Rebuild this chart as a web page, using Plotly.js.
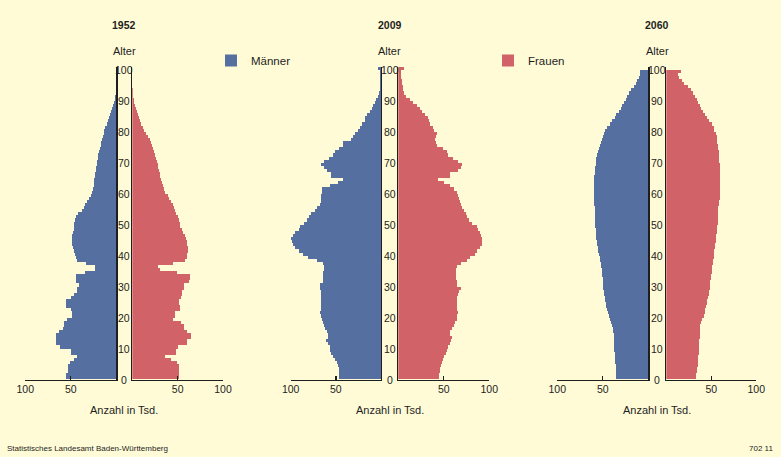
<!DOCTYPE html>
<html>
<head>
<meta charset="utf-8">
<script src="https://cdn.plot.ly/plotly-3.0.1.min.js"></script>
<style>
html,body{margin:0;padding:0;background:#FFFBD7;}
#chart{width:781px;height:457px;}
</style>
</head>
<body>
<div id="chart"></div>
<script>
// ---------- DATA (population in thousands, by single year of age) ----------
const years = ['1952', '2009', '2060'];
const seriesNames = ['Männer', 'Frauen'];
const ageTickLabels = ['0','10','20','30','40','50','60','70','80','90','100'];
const xTickLabels = ['50', '100'];

// ages 0 .. 100
const ages = Array.from({length: 101}, (_, i) => i);

const men1952 = [
 55,55,53,53,53,51,47,43,50,50,
 62,66,66,66,66,63,59,58,58,54,
 49,49,50,55,55,55,50,46,43,43,
 41,44,44,44,34,23,23,33,43,44,
 45,47,48,49,49,49,49,48,47,46,
 46,45,44,42,38,36,34,32,30,28,
 27,26,25,25,24,23,23,22,22,21,
 21,20,20,19,18,17,17,16,15,14,
 13,12,10,9,8,7,6,5,4,3,
 1.5,1,0.5,0.3,0,0,0,0,0,0,0];
const women1952 = [
 52,52,52,52,51,49,43,36,48,48,
 50,60,60,65,65,60,57,57,54,45,
 47,47,53,53,52,52,54,55,55,57,
 57,62,64,64,49,30,28,45,58,60,
 60,61,61,60,60,59,58,56,55,53,
 53,51,50,48,47,46,45,43,41,39,
 36,35,34,33,32,31,30,29,28,28,
 27,26,25,24,23,22,21,19,17,15,
 13,12,10,8,7,6,5,4,3,2,
 1.5,1.2,1,0.5,0,0,0,0,0,0,0];

const men2009 = [
 47,47,47,47,48,49,51,53,55,56,
 57,59,61,59,59,60,62,63,64,65,
 67,68,67,67,66,66,66,66,66,68,
 68,64,64,64,64,63,63,64,71,81,
 86,91,95,97,99,100,98,95,91,90,
 85,82,80,77,73,71,68,67,66,66,
 65,65,56,48,42,55,55,60,63,66,
 63,58,53,51,47,42,42,33,31,29,
 26,23,21,18,18,15,12,10,8.5,7,
 5.5,3,2,1.5,1.5,1.5,1.5,1.5,1.5,1.5,3];
const women2009 = [
 45,45,46,46,47,48,49,50,52,53,
 55,57,58,59,57,57,59,61,62,64,
 64,66,64,64,64,64,65,66,67,69,
 64,64,63,63,63,63,64,69,75,79,
 84,87,90,92,92,92,91,90,88,86,
 81,78,76,74,72,70,69,68,67,66,
 65,61,57,50,44,57,57,66,69,70,
 66,60,55,53,49,42,41,40,41,42,
 39,38,35,34,33,29,26,24,21,16,
 13,8,6.5,5.5,5,4.5,4,3.5,3,3.5,6];

const men2060 = [
 35,35,35.5,36,36,36.5,37,37,37,37.5,
 38,38,38,38,38,38.5,39,39.5,41,42,
 43,44,45,46,46.5,47.5,48,48.5,49,49.5,
 50,50,50,50.5,50.5,51,51.5,52,53,53.5,
 54,55,55.5,56,56.5,57,57.5,58,58,58.5,
 58.5,58.5,58.5,59,59,59,59.3,59.3,59.3,59.3,
 59.3,59.3,59.3,59.3,59.3,59.3,59,58.5,58.2,58,
 57.8,57,56.5,55.5,54.5,53,52,51,50,49,
 47.5,45,42,40,37,35,32,30,28.5,27,
 25,23,21,18.5,16,13.5,12,10.5,9.5,9,0];
const women2060 = [
 33.5,33.5,34,34.5,35,35,35,35.5,36,36,
 36,36.5,36.5,37,37,37,37.5,37.5,39,40,
 41.5,42.5,43.5,44.5,45,45.5,46.5,47,48,48.5,
 49,49,49.5,50,50.5,50.5,51,51.5,52,52.5,
 53,53.5,54,54.5,55,55.5,55.5,56,56,56.5,
 57,57,57,57.5,58,58,58.5,59,59.5,59.6,
 59.6,59.6,59.6,59.6,59.6,59.6,59.6,59.6,59.6,59.5,
 59,59,59,58.5,58,57.5,56.5,56,56,55,
 53.5,52.5,50.5,48,45,43,40.5,39,37.5,35.5,
 34.5,32,30,28,24.5,19.5,17,14.5,13.5,16.5,0];

const menByYear = [men1952, men2009, men2060];
const womenByYear = [women1952, women2009, women2060];

// ---------- LAYOUT / STYLE ----------
const W = 781, H = 457;
const BG = '#FFFBD7';
const BLUE = '#546FA0';
const RED = '#D06268';
const INK = '#1e1e1e';
const FONT = 'Liberation Sans, Arial, Helvetica, sans-serif';
const px = x => x / W;
const py = y => 1 - y / H;

// pixel geometry of the three panels: left half (men) and right half (women)
const panelGeom = [
  {L: [25.3, 116.3], R: [132.3, 223.0]},
  {L: [290.7, 381.0], R: [398.3, 489.3]},
  {L: [557.3, 648.3], R: [666.3, 756.3]}
];
const yDomain = [py(379.5), py(66.7)];
const ageRange = [0, 101];

const traces = [];
const layout = {
  width: W, height: H,
  margin: {l: 0, r: 0, t: 0, b: 0, pad: 0},
  paper_bgcolor: BG, plot_bgcolor: 'rgba(0,0,0,0)',
  font: {family: FONT, size: 11, color: INK},
  bargap: 0,
  showlegend: true,
  legend: {x: px(211), y: py(60.5), xanchor: 'left', yanchor: 'middle',
           bgcolor: 'rgba(0,0,0,0)', font: {size: 11.5, color: INK}, itemclick: false},
  legend2: {x: px(488), y: py(60.5), xanchor: 'left', yanchor: 'middle',
           bgcolor: 'rgba(0,0,0,0)', font: {size: 11.5, color: INK}, itemclick: false},
  annotations: [],
  shapes: []
};

const xAxisBase = {
  showline: true, linecolor: INK, linewidth: 1.3,
  ticks: 'inside', ticklen: 4, tickwidth: 1.3, tickcolor: INK,
  tickvals: [50, 100], ticktext: xTickLabels,
  tickfont: {size: 10.5, color: INK},
  showgrid: false, zeroline: false, fixedrange: true
};
const yAxisBase = {
  domain: yDomain, range: ageRange,
  showline: true, linecolor: INK, linewidth: 1.3,
  ticks: '', showticklabels: false, showgrid: false, zeroline: false, fixedrange: true
};

years.forEach((yr, i) => {
  const g = panelGeom[i];
  const nL = 2 * i + 1, nR = 2 * i + 2;
  const xL = 'x' + nL, yL = 'y' + nL, xR = 'x' + nR, yR = 'y' + nR;

  traces.push({
    type: 'bar', orientation: 'h', name: seriesNames[0],
    x: menByYear[i], y: ages, width: 1, offset: 0,
    xaxis: xL, yaxis: yL,
    marker: {color: BLUE, line: {width: 0}},
    showlegend: i === 0, legend: 'legend', hoverinfo: 'skip'
  });
  traces.push({
    type: 'bar', orientation: 'h', name: seriesNames[1],
    x: womenByYear[i], y: ages, width: 1, offset: 0,
    xaxis: xR, yaxis: yR,
    marker: {color: RED, line: {width: 0}},
    showlegend: i === 0, legend: 'legend2', hoverinfo: 'skip'
  });

  layout['xaxis' + nL] = Object.assign({}, xAxisBase,
    {domain: [px(g.L[0]), px(g.L[1])], range: [100, 0], anchor: yL});
  layout['xaxis' + nR] = Object.assign({}, xAxisBase,
    {domain: [px(g.R[0]), px(g.R[1])], range: [0, 100], anchor: yR});
  layout['yaxis' + nL] = Object.assign({}, yAxisBase, {anchor: xL, side: 'right'});
  layout['yaxis' + nR] = Object.assign({}, yAxisBase, {anchor: xR, side: 'left'});

  const cx = px((g.L[1] + g.R[0]) / 2);
  const pc = px((g.L[0] + g.R[1]) / 2);

  // year title
  layout.annotations.push({text: '<b>' + yr + '</b>', xref: 'paper', yref: 'paper',
    x: cx, y: py(25.3), xanchor: 'center', yanchor: 'middle', showarrow: false,
    font: {size: 10.5, color: INK}});
  // "Alter"
  layout.annotations.push({text: 'Alter', xref: 'paper', yref: 'paper',
    x: cx, y: py(51.5), xanchor: 'center', yanchor: 'middle', showarrow: false,
    font: {size: 11, color: INK}});
  // age tick labels, positioned on the age axis
  ageTickLabels.forEach(lbl => {
    layout.annotations.push({text: lbl, xref: 'paper', yref: yL,
      x: cx, y: Number(lbl), xanchor: 'center', yanchor: 'middle', showarrow: false,
      font: {size: 10.5, color: INK}});
  });
  // x axis title
  layout.annotations.push({text: 'Anzahl in Tsd.', xref: 'paper', yref: 'paper',
    x: pc, y: py(409.5), xanchor: 'center', yanchor: 'middle', showarrow: false,
    font: {size: 11, color: INK}});
});

layout.annotations.push({text: 'Statistisches Landesamt Baden-Württemberg', xref: 'paper', yref: 'paper',
  x: px(5), y: py(448.5), xanchor: 'left', yanchor: 'middle', showarrow: false,
  font: {size: 8, color: INK}});
layout.annotations.push({text: '702 11', xref: 'paper', yref: 'paper',
  x: px(775), y: py(448.5), xanchor: 'right', yanchor: 'middle', showarrow: false,
  font: {size: 8, color: INK}});

Plotly.newPlot('chart', traces, layout, {displayModeBar: false, staticPlot: true});
</script>
</body>
</html>
